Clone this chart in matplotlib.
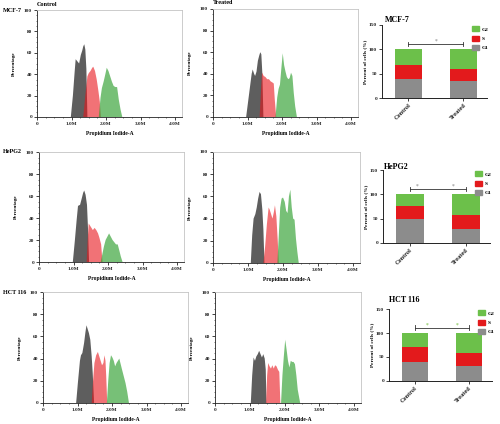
import matplotlib
matplotlib.use("Agg")
import matplotlib.pyplot as plt
from matplotlib.ticker import MultipleLocator
from matplotlib.patches import Patch

plt.rcParams['font.family'] = ['Liberation Serif', 'DejaVu Serif']
plt.rcParams['font.weight'] = 'bold'

# ---------------- data ----------------
row_names = ["MCF-7", "HePG2", "HCT 116"]
col_titles = ["Control", "Treated"]
x_tick_labels = ["0", "1.0M", "2.0M", "3.0M", "4.0M"]
phases = ["G2", "S", "G1"]
bar_groups = ["Control", "Treated"]

# Histograms (Propidium Iodide-A in millions, Percentage)
mcf7_ctrl_g1_x = [0.98, 1.04, 1.09, 1.12, 1.17, 1.22, 1.27, 1.31, 1.34, 1.37, 1.40, 1.43, 1.46]
mcf7_ctrl_g1_y = [0, 20, 42, 54, 52, 50, 58, 62, 66, 68, 63, 45, 0]
mcf7_ctrl_s_x = [1.34, 1.40, 1.46, 1.50, 1.55, 1.60, 1.63, 1.68, 1.73, 1.78, 1.82, 1.85]
mcf7_ctrl_s_y = [0, 20, 38, 41, 43, 46, 47, 43, 35, 24, 14, 0]
mcf7_ctrl_g2_x = [1.79, 1.84, 1.88, 1.93, 1.98, 2.02, 2.07, 2.12, 2.17, 2.22, 2.27, 2.32, 2.37, 2.42, 2.47]
mcf7_ctrl_g2_y = [0, 18, 27, 33, 40, 46, 43, 38, 33, 29, 28, 28, 16, 7, 0]

mcf7_trt_g1_x = [0.96, 1.02, 1.08, 1.12, 1.15, 1.19, 1.22, 1.26, 1.30, 1.34, 1.37, 1.40, 1.43, 1.46]
mcf7_trt_g1_y = [0, 15, 30, 40, 44, 40, 38, 42, 52, 57, 60, 58, 40, 0]
mcf7_trt_s_x = [1.35, 1.39, 1.42, 1.47, 1.52, 1.57, 1.62, 1.67, 1.72, 1.76, 1.79, 1.83]
mcf7_trt_s_y = [0, 25, 41, 38, 37, 35, 35, 33, 32, 31, 16, 0]
mcf7_trt_g2_x = [1.81, 1.86, 1.90, 1.94, 1.98, 2.02, 2.06, 2.10, 2.14, 2.18, 2.22, 2.26, 2.30, 2.34, 2.38, 2.43]
mcf7_trt_g2_y = [0, 18, 26, 30, 45, 59, 48, 42, 37, 35, 36, 41, 38, 22, 10, 0]

hepg2_ctrl_g1_x = [0.98, 1.04, 1.09, 1.13, 1.19, 1.24, 1.28, 1.31, 1.35, 1.39, 1.42, 1.45]
hepg2_ctrl_g1_y = [0, 20, 38, 51, 52, 58, 63, 65, 61, 52, 30, 0]
hepg2_ctrl_s_x = [1.38, 1.41, 1.44, 1.50, 1.56, 1.61, 1.66, 1.71, 1.75, 1.80, 1.84]
hepg2_ctrl_s_y = [0, 20, 35, 32, 29, 31, 29, 26, 22, 16, 0]
hepg2_ctrl_g2_x = [1.79, 1.84, 1.88, 1.93, 1.98, 2.03, 2.08, 2.13, 2.18, 2.23, 2.28, 2.33, 2.37, 2.42]
hepg2_ctrl_g2_y = [0, 8, 14, 20, 23, 26, 23, 20, 18, 16, 16, 10, 5, 0]

hepg2_trt_g1_x = [1.08, 1.12, 1.16, 1.21, 1.25, 1.29, 1.33, 1.37, 1.41, 1.44, 1.47]
hepg2_trt_g1_y = [0, 25, 40, 44, 50, 58, 64, 62, 48, 30, 0]
hepg2_trt_s_x = [1.44, 1.49, 1.54, 1.59, 1.62, 1.66, 1.70, 1.74, 1.77, 1.81, 1.85, 1.88]
hepg2_trt_s_y = [0, 15, 35, 50, 48, 44, 40, 46, 52, 42, 20, 0]
hepg2_trt_g2_x = [1.84, 1.88, 1.92, 1.96, 2.00, 2.05, 2.09, 2.13, 2.17, 2.21, 2.25, 2.29, 2.33, 2.37, 2.41, 2.45]
hepg2_trt_g2_y = [0, 25, 50, 58, 59, 55, 47, 45, 60, 66, 50, 40, 39, 22, 10, 0]

hct_ctrl_g1_x = [0.96, 1.01, 1.07, 1.10, 1.14, 1.19, 1.23, 1.26, 1.29, 1.33, 1.37, 1.41, 1.44, 1.48]
hct_ctrl_g1_y = [0, 18, 38, 43, 45, 54, 64, 70, 67, 63, 57, 42, 27, 0]
hct_ctrl_s_x = [1.41, 1.45, 1.49, 1.54, 1.59, 1.63, 1.67, 1.71, 1.75, 1.78, 1.81, 1.83, 1.86]
hct_ctrl_s_y = [0, 20, 36, 43, 46, 42, 38, 34, 36, 43, 38, 25, 0]
hct_ctrl_g2_x = [1.85, 1.89, 1.93, 1.97, 2.01, 2.05, 2.09, 2.13, 2.17, 2.21, 2.25, 2.29, 2.34, 2.39, 2.44, 2.49]
hct_ctrl_g2_y = [0, 20, 36, 43, 41, 38, 33, 36, 38, 40, 35, 30, 24, 18, 10, 0]

hct_trt_g1_x = [1.03, 1.07, 1.11, 1.15, 1.19, 1.23, 1.27, 1.31, 1.35, 1.39, 1.43, 1.46, 1.48]
hct_trt_g1_y = [0, 25, 41, 38, 42, 44, 47, 44, 41, 44, 40, 30, 0]
hct_trt_s_x = [1.47, 1.50, 1.53, 1.57, 1.61, 1.65, 1.69, 1.73, 1.77, 1.81, 1.85, 1.88]
hct_trt_s_y = [0, 25, 36, 33, 31, 34, 31, 34, 33, 30, 28, 0]
hct_trt_g2_x = [1.90, 1.94, 1.98, 2.02, 2.06, 2.10, 2.14, 2.18, 2.22, 2.26, 2.30, 2.34, 2.38, 2.45]
hct_trt_g2_y = [0, 25, 42, 57, 48, 38, 32, 38, 37, 37, 35, 25, 12, 0]

# Stacked bar percentages [Control, Treated]
mcf7_g1 = [39, 35]
mcf7_s = [29, 24]
mcf7_g2 = [32, 41]
hepg2_g1 = [49, 29]
hepg2_s = [28, 28]
hepg2_g2 = [23, 43]
hct_g1 = [40, 32]
hct_s = [30, 27]
hct_g2 = [30, 41]

hists = [
    [((mcf7_ctrl_g1_x, mcf7_ctrl_g1_y), (mcf7_ctrl_s_x, mcf7_ctrl_s_y), (mcf7_ctrl_g2_x, mcf7_ctrl_g2_y)),
     ((mcf7_trt_g1_x, mcf7_trt_g1_y), (mcf7_trt_s_x, mcf7_trt_s_y), (mcf7_trt_g2_x, mcf7_trt_g2_y))],
    [((hepg2_ctrl_g1_x, hepg2_ctrl_g1_y), (hepg2_ctrl_s_x, hepg2_ctrl_s_y), (hepg2_ctrl_g2_x, hepg2_ctrl_g2_y)),
     ((hepg2_trt_g1_x, hepg2_trt_g1_y), (hepg2_trt_s_x, hepg2_trt_s_y), (hepg2_trt_g2_x, hepg2_trt_g2_y))],
    [((hct_ctrl_g1_x, hct_ctrl_g1_y), (hct_ctrl_s_x, hct_ctrl_s_y), (hct_ctrl_g2_x, hct_ctrl_g2_y)),
     ((hct_trt_g1_x, hct_trt_g1_y), (hct_trt_s_x, hct_trt_s_y), (hct_trt_g2_x, hct_trt_g2_y))],
]
bars = [(mcf7_g1, mcf7_s, mcf7_g2), (hepg2_g1, hepg2_s, hepg2_g2), (hct_g1, hct_s, hct_g2)]

# ---------------- layout (pixel boxes) ----------------
W, H = 500, 424
hist_boxes = [
    [(37, 10, 182, 117), (213, 9, 358, 117)],
    [(39, 152, 184, 262), (213, 152, 360, 263)],
    [(43, 292, 188, 403), (215, 292, 361, 403)],
]
bar_boxes = [(382, 25, 487, 98), (383, 170, 490, 243), (389, 309, 492, 381)]
bar_titles_pos = [(385, 20), (384, 167), (389, 300)]
star_x = [[0.5], [0.13, 0.78], [0.23, 0.79]]
star_colors = ['#9a9a9a', '#9a9a9a', '#8cc860']

C_G1_H = '#5e5e5e'
C_S_H = '#e8151b'
C_G2_H = '#2e9e2e'
C_G1_B = '#8c8c8c'
C_S_B = '#e31a1c'
C_G2_B = '#6cc04a'

fig = plt.figure(figsize=(W / 100, H / 100), dpi=100)


def px_axes(box):
    x0, y0, x1, y1 = box
    return fig.add_axes([x0 / W, 1 - y1 / H, (x1 - x0) / W, (y1 - y0) / H])


for r in range(3):
    for c in range(2):
        ax = px_axes(hist_boxes[r][c])
        (g1, s, g2) = hists[r][c]
        ax.fill(g1[0], g1[1], color=C_G1_H, lw=0)
        ax.fill(s[0], s[1], color=C_S_H, alpha=0.6, lw=0)
        ax.fill(g2[0], g2[1], color=C_G2_H, alpha=0.65, lw=0)
        ax.set_xlim(0, 4.2)
        ax.set_ylim(0, 100)
        ax.set_xticks([0, 1, 2, 3, 4])
        ax.set_xticklabels(x_tick_labels)
        ax.set_yticks(range(0, 101, 20))
        ax.xaxis.set_minor_locator(MultipleLocator(0.25))
        ax.yaxis.set_minor_locator(MultipleLocator(5))
        ax.tick_params(which='major', length=2, width=0.6, labelsize=3.8, pad=1.5, colors='#222222')
        ax.tick_params(which='minor', length=1, width=0.5, colors='#444444')
        for sp in ['left', 'bottom']:
            ax.spines[sp].set_linewidth(0.6)
            ax.spines[sp].set_color('#222222')
        for sp in ['top', 'right']:
            ax.spines[sp].set_linewidth(0.6)
            ax.spines[sp].set_color('#c4c4c4')
        ax.set_xlabel("Propidium Iodide-A", fontsize=4, fontweight='bold')
        ax.xaxis.set_label_coords(0.5, -0.13)
        ax.set_ylabel("Percentage", fontsize=3.8, fontweight='bold')
        ax.yaxis.set_label_coords(-0.145, 0.5)
        if r == 0:
            x0, y0, x1, y1 = hist_boxes[r][c]
            fig.text(x0 / W, 1 - (y0 - 6) / H, col_titles[c], fontsize=4.4,
                     fontweight='bold', ha='left', va='center')
    x0, y0, x1, y1 = hist_boxes[r][0]
    fig.text(3 / W, 1 - y0 / H, row_names[r], fontsize=4.4, fontweight='bold',
             ha='left', va='center')

    # stacked bars
    bx = px_axes(bar_boxes[r])
    g1v, sv, g2v = bars[r]
    pos = [0, 1]
    bw = 0.49
    bx.bar(pos, g1v, width=bw, color=C_G1_B, lw=0)
    bx.bar(pos, sv, width=bw, bottom=g1v, color=C_S_B, lw=0)
    bx.bar(pos, g2v, width=bw, bottom=[a + b for a, b in zip(g1v, sv)], color=C_G2_B, lw=0)
    bx.set_xlim(-0.48, 1.43)
    bx.set_ylim(0, 150)
    bx.set_yticks([0, 50, 100, 150])
    bx.set_xticks(pos)
    bx.set_xticklabels(bar_groups, rotation=45, ha='right', rotation_mode='anchor')
    bx.tick_params(axis='y', length=2, width=0.6, labelsize=3.9, pad=1.5, colors='#222222')
    bx.tick_params(axis='x', length=2, width=0.6, labelsize=4.6, pad=1.5, colors='#222222')
    for sp in ['top', 'right']:
        bx.spines[sp].set_visible(False)
    for sp in ['left', 'bottom']:
        bx.spines[sp].set_linewidth(0.7)
        bx.spines[sp].set_color('#222222')
    bx.set_ylabel("Percent of cells (%)", fontsize=3.8, fontweight='bold')
    bx.yaxis.set_label_coords(-0.14, 0.5)
    # significance bracket
    bx.plot([0, 1], [111, 111], color='#333333', lw=0.6)
    bx.plot([0, 0], [106, 116], color='#333333', lw=0.6)
    bx.plot([1, 1], [106, 116], color='#333333', lw=0.6)
    for sx in star_x[r]:
        bx.text(sx, 112, '*', fontsize=4, color=star_colors[r], ha='center', va='bottom')
    handles = [Patch(color=C_G2_B, label='G2'), Patch(color=C_S_B, label='S'),
               Patch(color=C_G1_B, label='G1')]
    bx.legend(handles=handles, loc='upper left', bbox_to_anchor=(0.86, 0.98),
              frameon=False, fontsize=3.9, handlelength=1.3, handleheight=1.0,
              labelspacing=0.75, handletextpad=0.5, borderaxespad=0, borderpad=0)
    tx, ty = bar_titles_pos[r]
    fig.text(tx / W, 1 - ty / H, row_names[r], fontsize=5.8, fontweight='bold',
             ha='left', va='center')

fig.savefig("out.png", dpi=100)
